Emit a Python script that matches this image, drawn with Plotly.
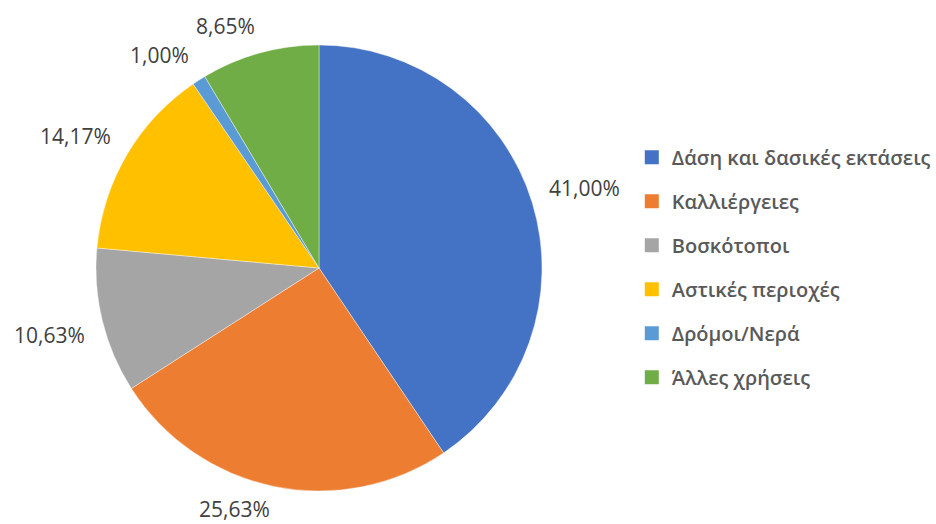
import math
import plotly.graph_objects as go

# Land use shares (%)
categories = ["Δάση και δασικές εκτάσεις", "Καλλιέργειες", "Βοσκότοποι",
              "Αστικές περιοχές", "Δρόμοι/Νερά", "Άλλες χρήσεις"]
shares = [41.00, 25.63, 10.63, 14.17, 1.00, 8.65]
colors = ["#4472C4", "#ED7D31", "#A5A5A5", "#FFC000", "#5B9BD5", "#70AD47"]

W, H = 936, 524
CX, CY, R = 319, 268, 223          # pie centre and radius in pixels
LABEL_SIZE = 21
LABEL_GAP = 18                      # distance from the rim to the label's inner corner
BOX_HALF = LABEL_SIZE * 0.65 + 1    # half height of an annotation box

labels_txt = [f"{v:.2f}".replace(".", ",") + "%" for v in shares]

fig = go.Figure()

fig.add_trace(go.Pie(
    labels=categories,
    values=shares,
    textinfo="none",
    marker=dict(colors=colors, line=dict(color="white", width=0.4)),
    sort=False,
    direction="clockwise",
    rotation=0,
    showlegend=False,
    domain=dict(x=[(CX - R) / W, (CX + R) / W],
                y=[1 - (CY + R) / H, 1 - (CY - R) / H]),
    hoverinfo="label+percent",
))


def text_halfwidth(s, size):
    # rough Open Sans advance widths
    w = 0.0
    for ch in s:
        if ch.isdigit():
            w += 0.572
        elif ch == ",":
            w += 0.26
        elif ch == "%":
            w += 0.83
        else:
            w += 0.55
    return w * size / 2


def sign(v):
    return 1 if v >= 0 else -1


# Data labels: the label's inner corner sits on the slice's mid-angle ray,
# just outside the rim, kept inside the page
total = sum(shares)
cum = 0.0
for v, txt in zip(shares, labels_txt):
    mid = (cum + v / 2) / total
    cum += v
    th = 2 * math.pi * mid                    # clockwise from 12 o'clock
    s, c = math.sin(th), math.cos(th)
    hw = text_halfwidth(txt, LABEL_SIZE)
    hh = 10
    d = R + LABEL_GAP
    px = CX + d * s + hw * sign(s)
    py = CY - d * c - hh * sign(c)
    py = min(max(py, BOX_HALF), H - BOX_HALF)
    fig.add_annotation(
        x=px / W, y=1 - py / H, xref="paper", yref="paper",
        text=txt, showarrow=False, xanchor="center", yanchor="middle",
        font=dict(family="Open Sans", size=LABEL_SIZE, color="#404040"),
    )

# Legend entries as separate groups so their spacing can be set
for name, col in zip(categories, colors):
    fig.add_trace(go.Scatter(
        x=[None], y=[None], mode="markers", name=name, legendgroup=name,
        marker=dict(symbol="square", size=14, color=col),
        showlegend=True,
    ))

fig.update_layout(
    width=W, height=H,
    margin=dict(l=0, r=0, t=0, b=0),
    paper_bgcolor="white",
    plot_bgcolor="white",
    xaxis=dict(visible=False),
    yaxis=dict(visible=False),
    legend=dict(
        x=0.675, y=0.49, xanchor="left", yanchor="middle",
        traceorder="grouped", tracegroupgap=15,
        font=dict(family="Open Sans", size=20, color="#595959", weight=600),
        itemwidth=30,
    ),
)

fig.write_html("out.html")
